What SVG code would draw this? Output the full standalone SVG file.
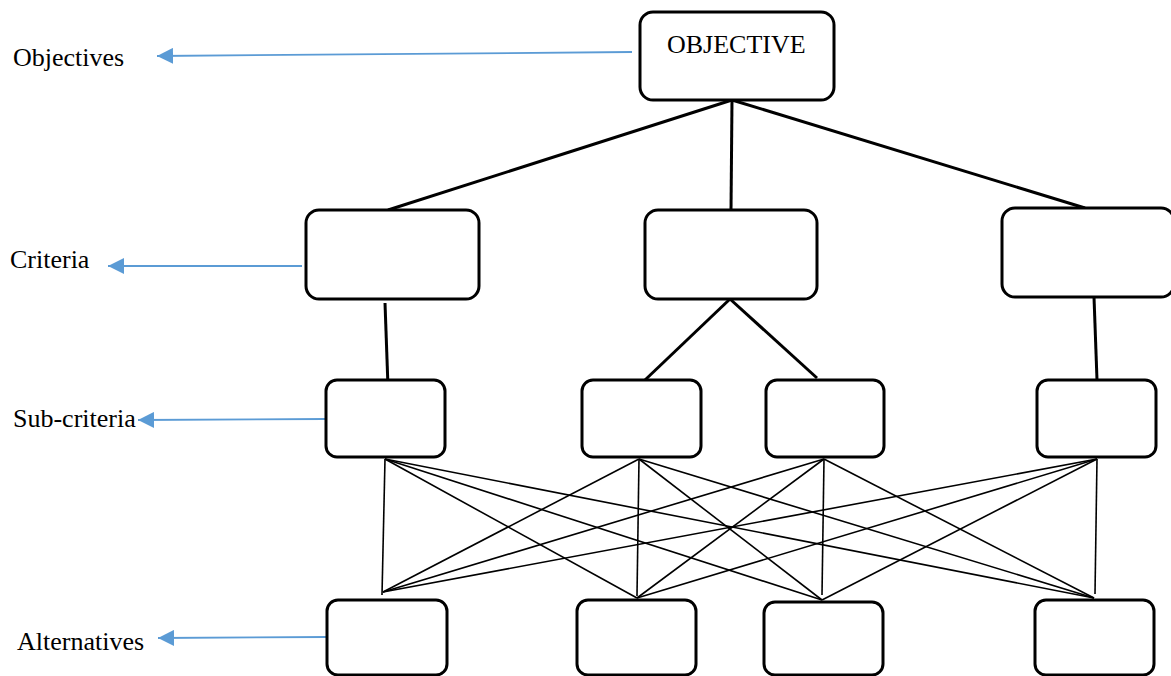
<svg xmlns="http://www.w3.org/2000/svg" width="1171" height="676" viewBox="0 0 1171 676">
<style>
.box{fill:#fff;stroke:#000;stroke-width:3}
.thick{stroke:#000;stroke-width:3;fill:none}
.thin{stroke:#000;stroke-width:1.6;fill:none}
.lbl{stroke:#5B9BD5;stroke-width:1.8;fill:none}
text{font-family:"Liberation Serif","Times New Roman",serif;font-size:26px;fill:#000}
</style>
<defs>
<marker id="ah" markerUnits="userSpaceOnUse" markerWidth="16" markerHeight="16" viewBox="0 0 16 16" refX="16" refY="8" orient="auto">
<path d="M0,0 L16,8 L0,16 z" fill="#5B9BD5"/>
</marker>
</defs>
<rect width="1171" height="676" fill="#fff"/>
<g id="connectors">
<line class="thick" x1="732" y1="100" x2="388" y2="210"/>
<line class="thick" x1="732" y1="100" x2="731" y2="210"/>
<line class="thick" x1="732" y1="100" x2="1085" y2="208"/>
<line class="thick" x1="385" y1="303" x2="388" y2="387"/>
<line class="thick" x1="730" y1="299" x2="645" y2="380"/>
<line class="thick" x1="730" y1="299" x2="817" y2="378"/>
<line class="thick" x1="1094" y1="297" x2="1097" y2="380"/>
<line class="thin" x1="385" y1="459" x2="382" y2="595"/>
<line class="thin" x1="385" y1="459" x2="637" y2="598"/>
<line class="thin" x1="385" y1="459" x2="822" y2="600"/>
<line class="thin" x1="385" y1="459" x2="1094" y2="598"/>
<line class="thin" x1="639" y1="459" x2="383" y2="592"/>
<line class="thin" x1="639" y1="459" x2="637" y2="596"/>
<line class="thin" x1="639" y1="459" x2="822" y2="600"/>
<line class="thin" x1="639" y1="459" x2="1094" y2="598"/>
<line class="thin" x1="824" y1="459" x2="383" y2="592"/>
<line class="thin" x1="824" y1="459" x2="637" y2="598"/>
<line class="thin" x1="824" y1="459" x2="822" y2="595"/>
<line class="thin" x1="824" y1="459" x2="1094" y2="598"/>
<line class="thin" x1="1097" y1="459" x2="383" y2="592"/>
<line class="thin" x1="1097" y1="459" x2="637" y2="598"/>
<line class="thin" x1="1097" y1="459" x2="822" y2="600"/>
<line class="thin" x1="1097" y1="459" x2="1095" y2="594"/>
<line class="lbl" x1="632" y1="52" x2="157" y2="56" marker-end="url(#ah)"/>
<line class="lbl" x1="302" y1="266" x2="108" y2="266" marker-end="url(#ah)"/>
<line class="lbl" x1="326" y1="419" x2="138" y2="420" marker-end="url(#ah)"/>
<line class="lbl" x1="328" y1="637" x2="158" y2="638" marker-end="url(#ah)"/>
</g>
<g id="objective"><rect class="box" x="640" y="12" width="194" height="88" rx="13"/><text x="667" y="53">OBJECTIVE</text></g>
<g id="criteria1"><rect class="box" x="306" y="210" width="173" height="89" rx="13"/></g>
<g id="criteria2"><rect class="box" x="645" y="210" width="172" height="89" rx="13"/></g>
<g id="criteria3"><rect class="box" x="1002" y="208" width="172" height="89" rx="13"/></g>
<g id="sub1"><rect class="box" x="326" y="380" width="119" height="77" rx="11"/></g>
<g id="sub2"><rect class="box" x="582" y="380" width="119" height="77" rx="11"/></g>
<g id="sub3"><rect class="box" x="766" y="380" width="118" height="77" rx="11"/></g>
<g id="sub4"><rect class="box" x="1037" y="380" width="119" height="77" rx="11"/></g>
<g id="alt1"><rect class="box" x="327" y="600" width="120" height="75" rx="11"/></g>
<g id="alt2"><rect class="box" x="577" y="600" width="119" height="75" rx="11"/></g>
<g id="alt3"><rect class="box" x="764" y="602" width="119" height="73" rx="11"/></g>
<g id="alt4"><rect class="box" x="1035" y="600" width="119" height="75" rx="11"/></g>
<g id="labels">
<text x="13" y="66">Objectives</text>
<text x="10" y="268">Criteria</text>
<text x="13" y="427">Sub-criteria</text>
<text x="17" y="650">Alternatives</text>
</g>
</svg>
